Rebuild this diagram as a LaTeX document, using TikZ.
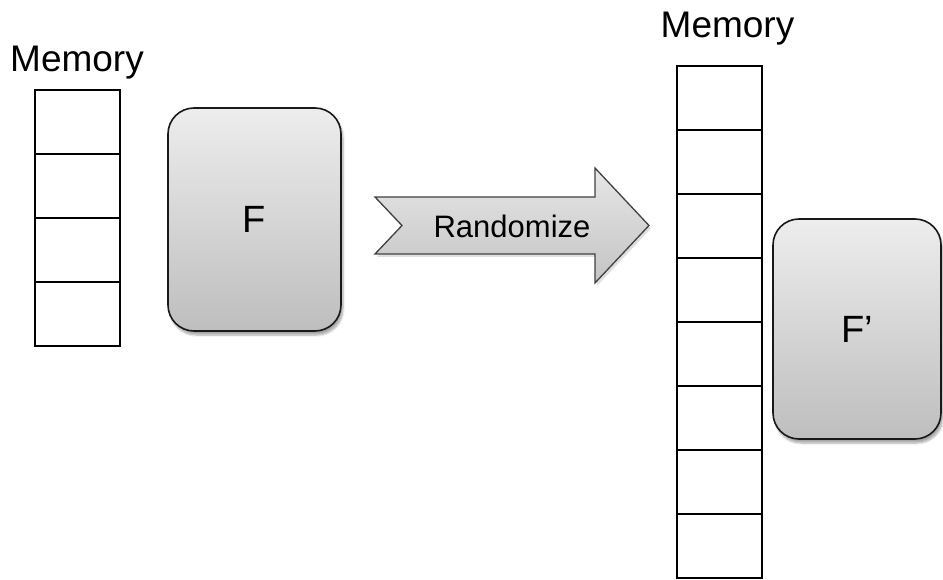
\documentclass[tikz,border=0pt]{standalone}
\usepackage{fontspec}
\setmainfont{Liberation Sans}
\usetikzlibrary{shadows.blur}
\definecolor{boxtop}{HTML}{EDEDED}
\definecolor{boxbot}{HTML}{BEBEBE}
\definecolor{arrtop}{HTML}{E6E6E6}
\definecolor{arrbot}{HTML}{C4C4C4}
\tikzset{
  cell/.style={draw=black, line width=2.4pt, fill=white, minimum width=85pt, minimum height=64pt, inner sep=0pt},
  funcbox/.style={draw=black!90, line width=1.6pt, rounded corners=26pt, top color=boxtop, bottom color=boxbot,
    inner sep=0pt, font=\fontsize{38}{42}\selectfont,
    blur shadow={shadow xshift=2pt, shadow yshift=-4pt, shadow blur steps=6, shadow opacity=35}},
  memlabel/.style={font=\fontsize{37}{42}\selectfont, inner sep=0pt},
}
\begin{document}
\begin{tikzpicture}[x=1pt,y=-1pt]
\useasboundingbox (0,0) rectangle (943,580);

% left memory column
\node[memlabel] (memA) at (77,63) {Memory};
\foreach \i in {1,...,4}{
  \node[cell] (a\i) at (77.5,{58+64*\i}) {};
}

% function box before randomization
\node[funcbox, minimum width=173pt, minimum height=223pt] (F) at (254.5,219.5) {F};

% randomize arrow
\coordinate (t1) at (375,197);
\coordinate (t2) at (402,225.5);
\coordinate (t3) at (375,254);
\coordinate (h1) at (595,197);
\coordinate (h2) at (595,168);
\coordinate (tip) at (649,225.5);
\coordinate (h3) at (595,283);
\coordinate (h4) at (595,254);
\fill[black, opacity=0.12] ([shift={(2,3)}]t1) -- ([shift={(2,3)}]h1) -- ([shift={(2,3)}]h2) -- ([shift={(2,3)}]tip)
  -- ([shift={(2,3)}]h3) -- ([shift={(2,3)}]h4) -- ([shift={(2,3)}]t3) -- ([shift={(2,3)}]t2) -- cycle;
\draw[draw=black!75, line width=1.3pt, top color=arrtop, bottom color=arrbot, line join=miter]
  (t1) -- (h1) -- (h2) -- (tip) -- (h3) -- (h4) -- (t3) -- (t2) -- cycle;
\node[font=\fontsize{31}{35}\selectfont, inner sep=0pt] (rnd) at (512,226) {Randomize};

% right memory column
\node[memlabel] (memB) at (727.5,29) {Memory};
\foreach \i in {1,...,8}{
  \node[cell] (b\i) at (719.5,{34+64*\i}) {};
}

% function box after randomization
\node[funcbox, minimum width=168pt, minimum height=220pt] (Fp) at (857,329) {F’};
\end{tikzpicture}
\end{document}
